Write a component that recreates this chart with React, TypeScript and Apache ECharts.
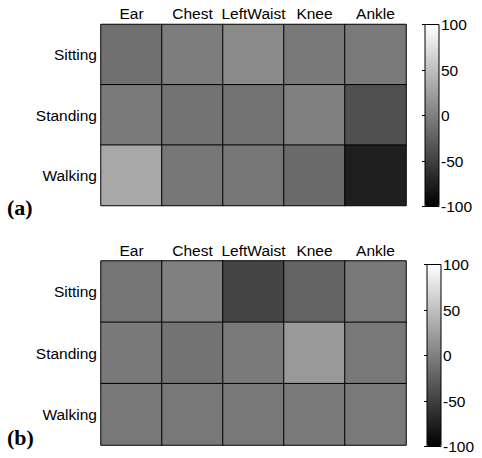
import React, { useEffect, useRef } from "react";
import * as echarts from "echarts";

const activities = ["Sitting", "Standing", "Walking"];
const locations = ["Ear", "Chest", "LeftWaist", "Knee", "Ankle"];

// rows = activities, cols = locations
const valuesA = [
  [-12, -2, 8, -6, -4],
  [-4, -10, -10, 0, -37],
  [32, -7, -7, -17, -76],
];
const valuesB = [
  [-8, 0, -47, -22, -6],
  [-5, -10, -4, 20, -6],
  [-6, -6, -6, -4, -4],
];
const scaleMin = -100;
const scaleMax = 100;
const scaleStep = 50;
const panelLabels = ["(a)", "(b)"];

const FONT = "'Liberation Sans', Arial, Helvetica, sans-serif";

function toData(m: number[][]) {
  const out: number[][] = [];
  m.forEach((row, r) => row.forEach((v, c) => out.push([c, r, v])));
  return out;
}

export default function App() {
  const ref = useRef<HTMLDivElement>(null);
  useEffect(() => {
    document.body.style.margin = "0";
    const chart = echarts.init(ref.current!, undefined, { renderer: "svg" });
    const heatGrids = [
      { left: 101, top: 24.5, width: 305, height: 181 },
      { left: 101, top: 261, width: 305, height: 184 },
    ];
    const barGrids = [
      { left: 425, top: 24.5, width: 14, height: 182 },
      { left: 427, top: 264.5, width: 14, height: 182 },
    ];
    const grids: any[] = [];
    const xAxes: any[] = [];
    const yAxes: any[] = [];
    heatGrids.forEach((g, i) => {
      grids.push({ ...g, show: false });
      xAxes.push({
        type: "category",
        gridIndex: i,
        data: locations,
        position: "top",
        axisLine: { show: false },
        axisTick: { show: false },
        axisLabel: { color: "#000", fontSize: 15.5, fontFamily: FONT, margin: 3, interval: 0 },
      });
      yAxes.push({
        type: "category",
        gridIndex: i,
        data: activities,
        inverse: true,
        axisLine: { show: false },
        axisTick: { show: false },
        axisLabel: { color: "#000", fontSize: 15.5, fontFamily: FONT, margin: 4 },
      });
    });
    barGrids.forEach((g, i) => {
      grids.push({ ...g, show: true, z: 10, borderColor: "#000", borderWidth: 1, backgroundColor: "transparent" });
      xAxes.push({ type: "value", gridIndex: 2 + i, min: 0, max: 1, show: false });
      yAxes.push({
        type: "value",
        gridIndex: 2 + i,
        min: scaleMin,
        max: scaleMax,
        interval: scaleStep,
        position: "right",
        z: 10,
        axisLine: { show: false },
        splitLine: { show: false },
        axisTick: { show: true, inside: true, length: 3, lineStyle: { color: "#000" } },
        axisLabel: { color: "#000", fontSize: 15.5, fontFamily: FONT, margin: 2 },
      });
    });
    chart.setOption({
      animation: false,
      backgroundColor: "#fff",
      grid: grids,
      xAxis: xAxes,
      yAxis: yAxes,
      visualMap: barGrids.map((g, i) => ({
        type: "continuous",
        min: scaleMin,
        max: scaleMax,
        seriesIndex: i,
        calculable: false,
        left: g.left,
        top: g.top,
        itemWidth: g.width,
        itemHeight: g.height,
        padding: 0,
        inRange: { color: ["#000000", "#ffffff"] },
        text: ["", ""],
      })),
      series: [valuesA, valuesB].map((m, i) => ({
        type: "heatmap",
        xAxisIndex: i,
        yAxisIndex: i,
        data: toData(m),
        itemStyle: { borderColor: "#000", borderWidth: 1 },
        emphasis: { disabled: true },
        label: { show: false },
      })),
      graphic: [
        { type: "text", left: 7, top: 196, style: { text: panelLabels[0], font: "bold 22px 'Liberation Serif', 'Times New Roman', serif", fill: "#000" } },
        { type: "text", left: 7, top: 426, style: { text: panelLabels[1], font: "bold 22px 'Liberation Serif', 'Times New Roman', serif", fill: "#000" } },
      ],
    });
    return () => chart.dispose();
  }, []);
  return <div ref={ref} style={{ width: 482, height: 458 }} />;
}
